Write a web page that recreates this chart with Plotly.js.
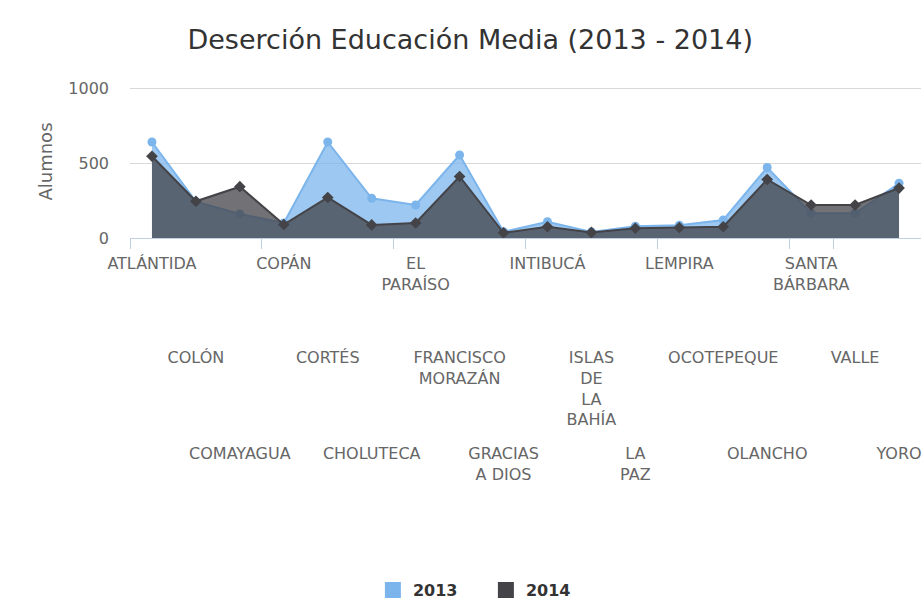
<!DOCTYPE html>
<html>
<head>
<meta charset="utf-8">
<script src="https://cdn.plot.ly/plotly-3.0.1.min.js"></script>
<style>html,body{margin:0;padding:0;background:#fff;}#chart{width:922px;height:604px;}</style>
</head>
<body>
<div id="chart"></div>
<script>
const categories = ["ATLÁNTIDA","COLÓN","COMAYAGUA","COPÁN","CORTÉS","CHOLUTECA","EL PARAÍSO","FRANCISCO MORAZÁN","GRACIAS A DIOS","INTIBUCÁ","ISLAS DE LA BAHÍA","LA PAZ","LEMPIRA","OCOTEPEQUE","OLANCHO","SANTA BÁRBARA","VALLE","YORO"];
const tickLabels = ["ATLÁNTIDA","COLÓN","COMAYAGUA","COPÁN","CORTÉS","CHOLUTECA","EL<br>PARAÍSO","FRANCISCO<br>MORAZÁN","GRACIAS<br>A DIOS","INTIBUCÁ","ISLAS<br>DE<br>LA<br>BAHÍA","LA<br>PAZ","LEMPIRA","OCOTEPEQUE","OLANCHO","SANTA<br>BÁRBARA","VALLE","YORO"];
const seriesNames = ["2013","2014"];
const values2013 = [640, 242, 160, 100, 640, 265, 220, 553, 42, 108, 40, 78, 85, 120, 470, 165, 165, 365];
const values2014 = [545, 245, 342, 90, 270, 87, 100, 410, 35, 75, 37, 65, 70, 75, 390, 220, 220, 333];
const yTicks = [0, 500, 1000];

const c2013 = "#7cb5ec", c2014 = "#434348";
const font = "DejaVu Sans, sans-serif";
const tickFont = {family: font, size: 16, color: "#666666"};

const traces = [
  {x: categories, y: values2013, name: seriesNames[0], type: "scatter", mode: "lines+markers",
   fill: "tozeroy", fillcolor: "rgba(124,181,236,0.75)", line: {color: c2013, width: 2},
   marker: {color: c2013, size: 9, symbol: "circle"}, showlegend: false, legendgroup: "a"},
  {x: categories, y: values2014, name: seriesNames[1], type: "scatter", mode: "lines+markers",
   fill: "tozeroy", fillcolor: "rgba(67,67,72,0.75)", line: {color: c2014, width: 2},
   marker: {color: c2014, size: 9, symbol: "diamond"}, showlegend: false, legendgroup: "b"},
  {x: [null], y: [null], name: seriesNames[0], type: "scatter", mode: "markers",
   marker: {color: c2013, size: 18, symbol: "square"}, legendgroup: "a"},
  {x: [null], y: [null], name: seriesNames[1], type: "scatter", mode: "markers",
   marker: {color: c2014, size: 18, symbol: "square"}, legendgroup: "b"},
  {x: [0], y: [null], xaxis: "x2", yaxis: "y", type: "scatter", mode: "markers", showlegend: false},
  {x: [0], y: [null], xaxis: "x3", yaxis: "y", type: "scatter", mode: "markers", showlegend: false}
];

function rowAxis(row, standoff) {
  const idx = [], txt = [];
  categories.forEach((c, i) => { if (i % 3 === row) { idx.push(i); txt.push(tickLabels[i]); } });
  return {
    overlaying: "x", anchor: "y", side: "bottom", type: "linear", range: [-0.5, categories.length - 0.5],
    tickmode: "array", tickvals: idx, ticktext: txt, showgrid: false, zeroline: false, showline: false,
    ticks: "", tickangle: 0, ticklabelstandoff: standoff, fixedrange: true, tickfont: tickFont
  };
}

const layout = {
  width: 922, height: 604,
  margin: {l: 130, r: 1, t: 85, b: 366},
  paper_bgcolor: "#ffffff", plot_bgcolor: "#ffffff",
  title: {text: "Deserción Educación Media (2013 - 2014)", font: {family: font, size: 27, color: "#333333"},
          x: 0.51, xanchor: "center", xref: "container", y: 0.934, yanchor: "middle", yref: "container"},
  xaxis: {type: "category", categoryorder: "array", categoryarray: categories, range: [-0.5, categories.length - 0.5],
          tickson: "boundaries", ticks: "outside", ticklen: 10, tickcolor: "#C0D0E0", showticklabels: true,
          tickvals: categories.filter((c, i) => i % 3 === 0), ticktext: tickLabels.filter((c, i) => i % 3 === 0),
          tickfont: tickFont, tickangle: 0, ticklabelstandoff: 11,
          showline: true, linecolor: "#C0D0E0", linewidth: 1, showgrid: false, zeroline: false},
  xaxis2: rowAxis(1, 108),
  xaxis3: rowAxis(2, 204),
  yaxis: {range: [0, 1020], tickvals: yTicks, ticktext: yTicks.map(String), showgrid: true, gridcolor: "#D8D8D8",
          zeroline: false, showline: false, ticks: "", ticklabelstandoff: 20,
          tickfont: {family: font, size: 16, color: "#666666"},
          title: {text: "Alumnos", font: {family: font, size: 18, color: "#666666"}, standoff: 10}},
  legend: {orientation: "h", x: 0.527, xanchor: "center", xref: "container", y: 0.023, yanchor: "middle", yref: "container",
           font: {family: font, size: 16, color: "#333333", weight: "bold"}, itemwidth: 30,
           entrywidth: 68, entrywidthmode: "pixels"},
  showlegend: true, hovermode: false
};

Plotly.newPlot("chart", traces, layout, {displayModeBar: false, staticPlot: true});
</script>
</body>
</html>
